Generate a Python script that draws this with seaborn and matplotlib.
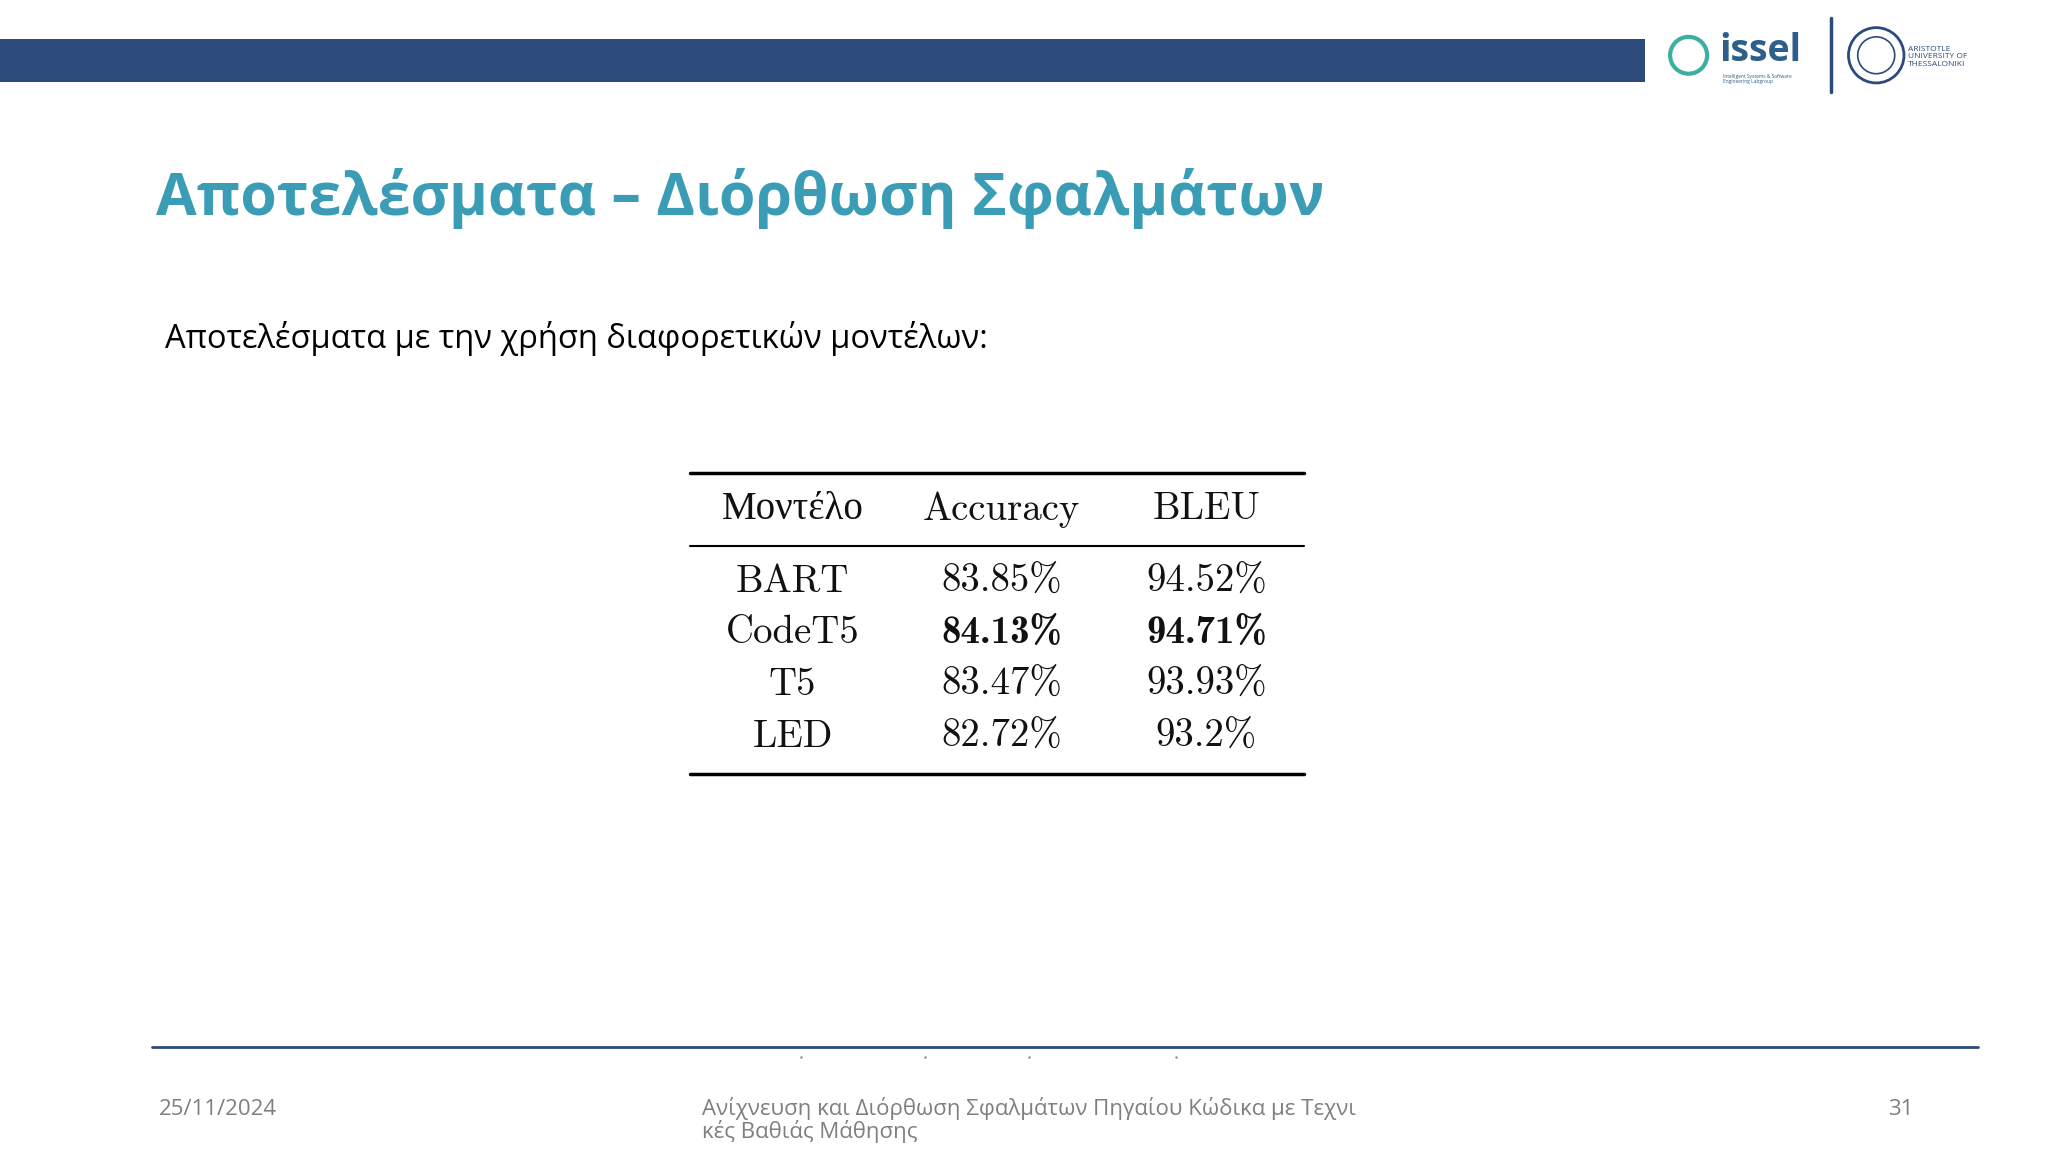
import matplotlib
matplotlib.use("Agg")
import matplotlib.pyplot as plt
import matplotlib.patches as mpatches
import seaborn as sns
import pandas as pd

sns.set_theme(style="white")
plt.rcParams['font.family'] = ['Open Sans', 'DejaVu Sans']

title = "Αποτελέσματα – Διόρθωση Σφαλμάτων"
subtitle = "Αποτελέσματα με την χρήση διαφορετικών μοντέλων:"
columns = ["Μοντέλο", "Accuracy", "BLEU"]
models = ["BART", "CodeT5", "T5", "LED"]
accuracy = ["83.85%", "84.13%", "83.47%", "82.72%"]
bleu = ["94.52%", "94.71%", "93.93%", "93.2%"]
best_row = "CodeT5"
footer_date = "25/11/2024"
footer_title = "Ανίχνευση και Διόρθωση Σφαλμάτων Πηγαίου Κώδικα με Τεχνι\nκές Βαθιάς Μάθησης"
page = "31"

df = pd.DataFrame({columns[0]: models, columns[1]: accuracy, columns[2]: bleu})

fig = plt.figure(figsize=(20.48, 11.52), dpi=100)
ax = fig.add_axes([0, 0, 1, 1])
ax.set_xlim(0, 1550)
ax.set_ylim(875, 0)
ax.axis("off")

navy = "#2C4A7C"
teal = "#3A9DB5"

# header bar
ax.add_patch(mpatches.Rectangle((0, 30), 1245, 32, color=navy, lw=0))

# logos
ax.text(1301, 39, "issel", fontsize=27, fontweight="bold", color="#2C5F8A", va="center", ha="left")
ax.text(1304, 60, "Intelligent Systems & Software\nEngineering Labgroup", fontsize=3.5, color="#2C5F8A", va="center")
ax.add_patch(mpatches.Circle((1278, 42), 14, fill=False, ec="#3BB0A0", lw=3))
ax.plot([1386, 1386], [14, 70], color=navy, lw=2.5)
ax.add_patch(mpatches.Circle((1420, 42), 21, fill=False, ec=navy, lw=2))
ax.add_patch(mpatches.Circle((1420, 42), 14, fill=False, ec=navy, lw=1.2))
ax.text(1444, 43, "ARISTOTLE\nUNIVERSITY OF\nTHESSALONIKI", fontsize=6, color=navy, va="center", ha="left", linespacing=1.1)

# title & subtitle
ax.text(118, 151, title, fontsize=42.5, fontweight="bold", color=teal, va="center", ha="left")
ax.text(125, 257, subtitle, fontsize=23.5, color="black", va="center", ha="left")

# table
x0, x1 = 522, 987
col_x = [600, 758, 913]
ax.plot([x0, x1], [359, 359], color="black", lw=2.5)
ax.plot([x0, x1], [415, 415], color="black", lw=1.5)
ax.plot([x0, x1], [588, 588], color="black", lw=2.5)
serif = ['cmr10', 'Liberation Serif', 'DejaVu Serif']
bold_serif = ['cmb10', 'Liberation Serif', 'DejaVu Serif']
for c, x in zip(columns, col_x):
    ax.text(x, 387, c, fontsize=28, family=['Liberation Serif'] if c == columns[0] else serif,
            ha="center", va="center", color="#111111")
row_y = [442, 481, 520, 560]
for (_, r), y in zip(df.iterrows(), row_y):
    for c, x in zip(columns, col_x):
        is_bold = (r[columns[0]] == best_row) and c != columns[0]
        ax.text(x, y, r[c], fontsize=28, family=bold_serif if is_bold else serif,
                fontweight="bold" if is_bold else "normal",
                ha="center", va="center", color="#111111")

# footer
ax.plot([115, 1497], [795, 795], color=navy, lw=2)
for fx in [606, 700, 779, 890]:
    ax.plot([fx], [803], marker=".", ms=1.5, color="#888888")
ax.text(120, 843, footer_date, fontsize=16, color="#7F7F7F", va="center", ha="left")
ax.text(531, 833, footer_title, fontsize=16, color="#7F7F7F", va="top", ha="left", linespacing=1.0)
ax.text(1448, 843, page, fontsize=16, color="#7F7F7F", va="center", ha="right")

fig.savefig("out.png", dpi=100, facecolor="white")
